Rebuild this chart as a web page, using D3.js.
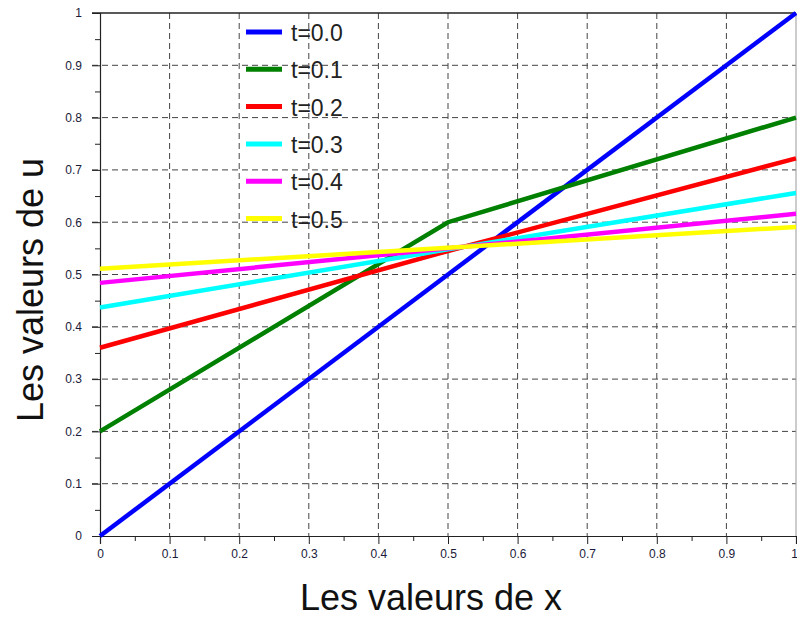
<!DOCTYPE html>
<html>
<head>
<meta charset="utf-8">
<script src="https://cdn.jsdelivr.net/npm/d3@7"></script>
<style>
  body { margin: 0; background: #fff; }
  text { font-family: "Liberation Sans", Arial, sans-serif; }
</style>
</head>
<body>
<script>
// chart data
var xValues = [0, 0.5, 1];
var seriesNames = ["t=0.0", "t=0.1", "t=0.2", "t=0.3", "t=0.4", "t=0.5"];
var seriesColors = ["#0000ff", "#008000", "#ff0000", "#00ffff", "#ff00ff", "#ffff00"];
var u00 = [0, 0.5, 1];
var u01 = [0.2, 0.6, 0.8];
var u02 = [0.36, 0.545, 0.722];
var u03 = [0.437, 0.548, 0.656];
var u04 = [0.484, 0.55, 0.616];
var u05 = [0.511, 0.551, 0.591];
var seriesValues = [u00, u01, u02, u03, u04, u05];
var tickValues = d3.range(0, 11).map(d => d / 10);

var svgWidth = 797;
var svgHeight = 621;
var margin = { top: 13, right: 1, bottom: 85, left: 100 };
var chartWidth = svgWidth - margin.left - margin.right;
var chartHeight = svgHeight - margin.top - margin.bottom;

var svg = d3.select("body")
  .append("svg")
  .attr("width", svgWidth)
  .attr("height", svgHeight);

var chartGroup = svg.append("g")
  .attr("transform", `translate(${margin.left}, ${margin.top})`);

var xScale = d3.scaleLinear().domain([0, 1]).range([0, chartWidth]);
var yScale = d3.scaleLinear().domain([0, 1]).range([chartHeight, 0]);

// dashed grid
chartGroup.selectAll(".vgrid")
  .data(tickValues.slice(1, -1))
  .enter()
  .append("line")
  .attr("x1", d => xScale(d)).attr("x2", d => xScale(d))
  .attr("y1", 0).attr("y2", chartHeight)
  .attr("stroke", "#444").attr("stroke-dasharray", "6,4");

chartGroup.selectAll(".hgrid")
  .data(tickValues.slice(1, -1))
  .enter()
  .append("line")
  .attr("y1", d => yScale(d)).attr("y2", d => yScale(d))
  .attr("x1", -8).attr("x2", chartWidth)
  .attr("stroke", "#444").attr("stroke-dasharray", "6,4");

// frame
chartGroup.append("line").attr("x1", -8).attr("x2", chartWidth).attr("y1", 0).attr("y2", 0)
  .attr("stroke", "#222").attr("stroke-width", 1.5);
chartGroup.append("line").attr("x1", chartWidth).attr("x2", chartWidth).attr("y1", 0).attr("y2", chartHeight)
  .attr("stroke", "#999");

// axes
var minorTicks = d3.range(0, 10).map(d => d / 10 + 0.05);

var bottomAxis = d3.axisBottom(xScale).tickValues(tickValues).tickSize(8).tickPadding(5)
  .tickFormat(d3.format("~g"));
var leftAxis = d3.axisLeft(yScale).tickValues(tickValues).tickSize(8).tickPadding(10)
  .tickFormat(d3.format("~g"));

var xAxisG = chartGroup.append("g")
  .attr("transform", `translate(0, ${chartHeight})`)
  .call(bottomAxis);
var yAxisG = chartGroup.append("g").call(leftAxis);

[xAxisG, yAxisG].forEach(function(g) {
  g.select(".domain").attr("stroke", "#222").attr("stroke-width", 1.2);
  g.selectAll(".tick line").attr("stroke", "#222");
  g.selectAll(".tick text").attr("font-size", 12).attr("fill", "#1a1a3a")
    .attr("font-family", "Liberation Sans, Arial, sans-serif");
});
// last x label sits at the window edge; nudge it in slightly
xAxisG.selectAll(".tick text").filter(d => d === 1).attr("dx", "-2");

chartGroup.append("g")
  .attr("transform", `translate(0, ${chartHeight})`)
  .call(d3.axisBottom(xScale).tickValues(minorTicks).tickSize(5).tickFormat(""))
  .call(g => g.select(".domain").remove())
  .selectAll("line").attr("stroke", "#222");

chartGroup.append("g")
  .call(d3.axisLeft(yScale).tickValues(minorTicks).tickSize(5).tickFormat(""))
  .call(g => g.select(".domain").remove())
  .selectAll("line").attr("stroke", "#222");

// curves
var line = d3.line()
  .x((d, i) => xScale(xValues[i]))
  .y(d => yScale(d));

chartGroup.selectAll(".curve")
  .data(seriesValues)
  .enter()
  .append("path")
  .attr("class", "curve")
  .attr("d", line)
  .attr("fill", "none")
  .attr("stroke", (d, i) => seriesColors[i])
  .attr("stroke-width", 4.5);

// legend
var legend = svg.append("g").attr("transform", "translate(246, 32)");
var rows = legend.selectAll(".row")
  .data(seriesNames)
  .enter()
  .append("g")
  .attr("transform", (d, i) => `translate(0, ${i * 37.3})`);

rows.append("line")
  .attr("x1", 0).attr("x2", 36)
  .attr("stroke", (d, i) => seriesColors[i])
  .attr("stroke-width", 5);

rows.append("text")
  .attr("x", 45).attr("y", 9)
  .attr("font-size", 23)
  .attr("fill", "#222")
  .text(d => d);

// axis titles
svg.append("text")
  .attr("x", 431)
  .attr("y", 610)
  .attr("text-anchor", "middle")
  .attr("font-size", 36)
  .attr("fill", "#111")
  .text("Les valeurs de x");

svg.append("text")
  .attr("transform", "translate(43, 290) rotate(-90)")
  .attr("text-anchor", "middle")
  .attr("font-size", 36)
  .attr("fill", "#111")
  .text("Les valeurs de u");
</script>
</body>
</html>
